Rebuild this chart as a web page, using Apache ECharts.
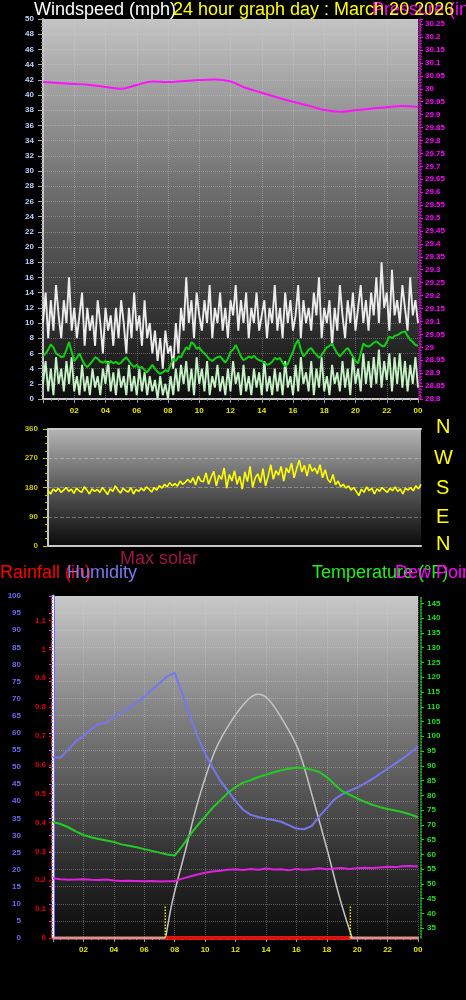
<!DOCTYPE html>
<html><head><meta charset="utf-8">
<script src="https://cdn.jsdelivr.net/npm/echarts@6/dist/echarts.min.js"></script>
<style>html,body{margin:0;padding:0;background:#000;}#c{width:466px;height:1000px;}</style>
</head><body><div id="c"></div>
<script>
// ---- data (10-minute samples, 00:00 .. 24:00) ----
const STEP10 = 10 / 60;
const gust = [10,14,8,13,9,15,11, 8,13,10,16,9,12, 8,11,14,7,12,9, 11,7,13,10,6,12, 9,11,7,12,8,13,
  10,6,12,8,14,9, 11,7,13,8,10,6, 9,5,8,4,9,6, 7,4,10,6,12,9, 16,10,13,8,14,11, 9,13,10,15,8,12,
  10,14,9,12,8,13, 11,15,9,13,10,14, 8,12,10,14,9,11, 13,8,12,10,15,9, 12,8,14,10,13,9, 11,15,8,13,10,12,
  9,14,11,16,8,12, 10,13,7,12,9,15, 11,8,13,10,14,9, 12,15,10,13,9,14, 11,16,10,18,12,14, 9,17,11,13,10,15,
  12,9,16,11,13,10];
const speed = [2,5,1,4,0.5,5.5,2, 4,1,5,2,5.5,1, 3,0.5,4.5,1,3,0.5, 4,1.5,3,0.5,4,2, 5,1,3.5,0.5,4,1.5,
  3,0.5,4.5,1,3,0.5, 4,1,3.5,0.5,3,1, 2.5,0,3,0.5,2,0, 3,0.5,4,1,4.5,2, 5,1,4,0.5,5.5,2, 4,1,5,0.5,3,1.5,
  4.5,1,3,0.5,4,1, 5,2,3.5,0.5,4.5,1, 3,0.5,4,1.5,3.5,0.5, 5,1,3,0.5,4,1, 3.5,0.5,5,1.5,3,0.5, 4.5,1,5.5,2,3.5,1,
  5,0.5,4,1.5,5.5,1, 3,0.5,4.5,2,3.5,1, 5,1.5,4,0.5,5.5,2, 4,1,6,2,5,1.5, 5.5,2,6.5,1.5,5,2.5, 6,1,5.5,2,6,1.5,
  5,1,4.5,2,5.5,1.5];
const avgSpeed = [5.6,6.0,6.5,7.2,6.8,6.0,5.8,5.5,5.6,6.5,7.5,6.2,5.0,5.4,6.0,5.2,4.5,4.2,
  4.6,5.0,5.5,5.3,4.9,4.8,5.0,4.6,5.0,4.7,4.9,4.6,4.8,5.2,5.5,5.0,4.5,4.2,
  4.5,4.1,4.2,3.8,3.5,4.0,4.5,4.0,3.6,3.3,3.5,3.8,3.6,4.5,5.3,5.0,5.6,5.5,
  6.2,6.8,6.5,7.5,7.2,6.6,6.8,6.3,6.0,5.6,5.2,5.0,5.3,5.5,5.6,5.2,4.8,5.3,
  6.2,6.5,7.1,6.4,5.6,5.1,5.3,5.6,5.4,5.7,5.3,5.1,5.0,4.8,4.5,4.6,4.9,5.4,
  5.2,5.4,4.8,4.3,4.6,5.5,6.2,7.2,7.8,6.5,5.6,6.0,6.5,6.7,6.2,5.8,5.4,5.8,
  6.3,6.8,7.0,7.3,6.6,6.0,5.6,6.0,6.4,6.7,6.2,5.6,5.0,4.7,6.0,7.3,7.0,6.9,
  7.1,7.4,7.6,7.3,7.0,6.9,7.5,8.2,8.0,8.3,8.4,8.6,8.8,8.9,8.3,7.8,7.5,7.1,7.0];
const windDir = [170,160,175,168,178,165,172, 180,168,175,162,178,170, 165,182,172,160,176,168,
  174,165,180,170,158,176, 168,185,172,163,178,170, 166,180,160,174,168,178, 170,182,175,166,180,172,
  186,178,190,182,195,185, 192,184,200,190,196,205, 195,210,188,215,200,198, 225,190,212,230,185,218,
  205,240,178,220,200,232, 190,215,175,228,198,245, 180,210,222,195,238,185, 215,250,205,232,218,245,
  200,240,225,255,210,238, 265,228,248,215,252,230, 240,222,250,210,235,205, 195,220,188,200,182,190,
  178,185,172,180,168,155, 175,165,182,170,178,160, 176,168,180,172,165,178, 170,182,168,176,160,178,
  172,180,170,185,176,190];
// hourly pressure (inHg)
const STEP60 = 1;
const pressure = [30.026,30.022,30.019,30.015,30.007,30.000,30.015,30.028,30.026,30.030,30.034,30.036,
  30.028,30.003,29.985,29.966,29.950,29.935,29.918,29.911,29.917,29.923,29.929,29.933,29.930];
// half-hourly
const STEP30 = 0.5;
const humidity = [52.8,52.8,55,57.5,59,61,62.6,63,64.5,66,67.2,68.8,70.5,72.5,74.5,76.5,77.5,71.5,65,59,
  54,49.8,46,43,40,37.5,36,35.4,34.9,34.5,34,33,32,31.8,32.7,35.5,38,40.5,42,43,
  44,45.2,46.5,48,49.5,51,52.5,54.2,56];
const temperature = [71,70.3,69.2,67.8,66.6,65.8,65.2,64.7,64.2,63.4,62.9,62.4,61.8,61.2,60.6,60.0,59.6,62.8,66.5,69.8,
  72.8,75.8,78.3,80.8,82.8,84.3,85.1,86.2,87.0,87.8,88.5,89.0,89.4,89.3,88.7,87.9,86.2,83.8,81.5,80.2,
  79.0,77.8,76.8,76.0,75.4,74.9,74.3,73.5,72.6];
const dewPoint = [51.9,51.6,51.4,51.5,51.6,51.4,51.3,51.5,51.2,51.0,51.1,51.0,50.9,51.0,50.8,50.9,51.0,51.8,52.5,53.2,
  53.8,54.2,54.5,54.8,55.0,54.7,55.1,54.8,55.2,54.9,55.0,54.6,55.1,54.8,55.0,55.3,55.0,55.2,55.4,55.1,
  55.3,55.5,55.4,55.6,55.8,55.7,56.0,56.1,55.9];
const solarTimes = [7.41,7.87,8.72,9.57,10.69,11.80,12.85,13.51,14.16,15.08,16.13,17.11,18.03,18.89,19.67];
const solarMax = [0,111,258,405,551,639,698,713,698,639,551,405,258,111,0];
const sunTimes = [7.38, 19.55];
const rainTimes = [0, 24];
const rainfall = [0, 0];
const hourTicks = ['00','02','04','06','08','10','12','14','16','18','20','22','00'];
const tempTicks = [35,40,45,50,55,60,65,70,75,80,85,90,95,100,105,110,115,120,125,130,135,140,145];
const compass = ['N','W','S','E','N'];

// ---- build ----
const pairs = (arr, step) => arr.map((v, i) => [i * step, v]);
const F = '"Liberation Sans", Arial, sans-serif';
const grad = (stops) => ({type:'linear', x:0, y:0, x2:0, y2:1, colorStops: stops.map(s => ({offset:s[0], color:s[1]}))});
const gridLine = {show:true, lineStyle:{color:'rgba(215,215,215,0.35)', type:'dotted', width:1}};
const hourFmt = v => hourTicks[Math.round(v / 2)];
const lbl = (color, margin, extra) => Object.assign({color:color, fontSize:8, fontWeight:'bold', fontFamily:F, margin:margin}, extra || {});

const chart = echarts.init(document.getElementById('c'), null, {renderer:'canvas'});
const txt = (t, x, y, color, size) => ({type:'text', x:x, y:y, z:100,
  style:{text:t, x:0, y:0, fill:color, font: size + 'px ' + F, verticalAlign:'middle', align:'left'}});

chart.setOption({
  backgroundColor:'#000',
  animation:false,
  grid:[
    {left:43, top:19, width:375, height:380, show:true, borderWidth:0,
      backgroundColor: grad([[0,'#c4c4c4'],[0.45,'#6e6e6e'],[0.8,'#303030'],[1,'#0e0e0e']])},
    {left:48, top:429, width:373, height:117, show:true, borderWidth:0,
      backgroundColor: grad([[0,'#b4b4b4'],[0.5,'#5a5a5a'],[1,'#0a0a0a']])},
    {left:53, top:596, width:365, height:342, show:true, borderWidth:0,
      backgroundColor: grad([[0,'#c8c8c8'],[0.45,'#6c6c6c'],[0.8,'#2a2a2a'],[1,'#0c0c0c']])}
  ],
  xAxis:[
    {gridIndex:0, type:'value', min:0, max:24, interval:2,
      axisLine:{show:true, onZero:false, lineStyle:{color:'#c8c8c8', width:2}},
      axisTick:{show:true, length:4, lineStyle:{color:'#a0a0a0'}},
      minorTick:{show:true, splitNumber:4, length:2, lineStyle:{color:'#909090'}},
      axisLabel:lbl('#e6e600', 8, {showMinLabel:false, formatter:hourFmt}),
      splitLine:gridLine},
    {gridIndex:1, type:'value', min:0, max:24, interval:2,
      axisLine:{show:true, onZero:false, lineStyle:{color:'#c8c8c8', width:2}},
      axisTick:{show:false}, axisLabel:{show:false}, splitLine:{show:false}},
    {gridIndex:1, type:'value', min:0, max:24, position:'top',
      axisLine:{show:true, onZero:false, lineStyle:{color:'#c8c8c8', width:2}},
      axisTick:{show:false}, axisLabel:{show:false}, splitLine:{show:false}},
    {gridIndex:2, type:'value', min:0, max:24, interval:2,
      axisLine:{show:true, onZero:false, lineStyle:{color:'#c8c8c8', width:2}},
      axisTick:{show:true, length:4, lineStyle:{color:'#a0a0a0'}},
      minorTick:{show:true, splitNumber:4, length:2, lineStyle:{color:'#909090'}},
      axisLabel:lbl('#e6e600', 8, {showMinLabel:false, formatter:hourFmt}),
      splitLine:gridLine}
  ],
  yAxis:[
    {gridIndex:0, type:'value', min:0, max:50, interval:2, position:'left',
      axisLine:{show:true, lineStyle:{color:'#c8c8c8', width:2}},
      axisTick:{show:true, length:5, lineStyle:{color:'#a8a8a8'}},
      minorTick:{show:true, splitNumber:4, length:2, lineStyle:{color:'#888'}},
      axisLabel:lbl('#bcd4ff', 9),
      splitLine:gridLine},
    {gridIndex:0, type:'value', min:28.8, max:30.27, interval:0.05, position:'right', offset:2,
      axisLine:{show:true, lineStyle:{color:'#ff00ff', width:1.5, type:'dotted'}},
      axisTick:{show:true, length:3, lineStyle:{color:'#ff00ff'}},
      minorTick:{show:true, splitNumber:4, length:2, lineStyle:{color:'#c000c0'}},
      axisLabel:lbl('#ff00ff', 5, {showMaxLabel:false}),
      splitLine:{show:false}},
    {gridIndex:1, type:'value', min:0, max:360, interval:90, position:'left',
      axisLine:{show:true, lineStyle:{color:'#c8c8c8', width:2}},
      axisTick:{show:true, length:5, lineStyle:{color:'#c8c800'}},
      minorTick:{show:true, splitNumber:4, length:3, lineStyle:{color:'#c8c800'}},
      axisLabel:lbl('#c8c800', 10),
      splitLine:{show:true, lineStyle:{color:'rgba(220,220,220,0.4)', type:'dashed'}}},
    {gridIndex:2, type:'value', min:0, max:100, interval:5, position:'left', offset:24,
      axisLine:{show:true, lineStyle:{color:'#6a6af0', width:3}},
      axisTick:{show:true, length:4, lineStyle:{color:'#6a6af0'}},
      minorTick:{show:true, splitNumber:5, length:2, lineStyle:{color:'#6a6af0'}},
      axisLabel:lbl('#6a6af0', 8),
      splitLine:gridLine},
    {gridIndex:2, type:'value', min:0, max:1.185, interval:0.1, position:'left', offset:1,
      axisLine:{show:true, lineStyle:{color:'#e00000', width:2, type:'dashed'}},
      axisTick:{show:true, length:3, lineStyle:{color:'#e00000'}},
      axisLabel:lbl('#e00000', 6, {showMaxLabel:false}),
      splitLine:{show:false}},
    {gridIndex:2, type:'value', min:31.7, max:147.5, position:'right', offset:3,
      axisLine:{show:true, lineStyle:{color:'#22cc22', width:1.5, type:'dotted'}},
      axisTick:{show:true, length:3, customValues:tempTicks, lineStyle:{color:'#22cc22'}},
      axisLabel:lbl('#22dd22', 6, {customValues:tempTicks}),
      splitLine:{show:false}},
    {gridIndex:2, type:'value', min:0, max:1000, position:'left', offset:0,
      axisLine:{show:true, lineStyle:{color:'#f0f0f0', width:2}},
      axisTick:{show:false}, axisLabel:{show:false}, splitLine:{show:false}}
  ],
  series:[
    {name:'Gust', type:'line', xAxisIndex:0, yAxisIndex:0, data:pairs(gust, STEP10), showSymbol:false,
      lineStyle:{color:'#ececec', width:1.9}, z:2},
    {name:'Wind speed', type:'line', xAxisIndex:0, yAxisIndex:0, data:pairs(speed, STEP10), showSymbol:false,
      lineStyle:{color:'#c6f2c6', width:1.9}, z:3},
    {name:'Average', type:'line', xAxisIndex:0, yAxisIndex:0, data:pairs(avgSpeed, STEP10), showSymbol:false,
      lineStyle:{color:'#10d010', width:2}, z:4},
    {name:'Pressure', type:'line', xAxisIndex:0, yAxisIndex:1, data:pairs(pressure, STEP60), showSymbol:false,
      smooth:0.4, lineStyle:{color:'#ff10ff', width:2}, z:5},
    {name:'Wind direction', type:'line', xAxisIndex:1, yAxisIndex:2, data:pairs(windDir, STEP10), showSymbol:false,
      lineStyle:{color:'#ffff00', width:1.6}, z:3},
    {name:'Rainfall', type:'line', xAxisIndex:3, yAxisIndex:4, data:rainTimes.map((t,i)=>[t, rainfall[i]]), showSymbol:false,
      clip:false, lineStyle:{color:'#e09090', width:3}, z:3},
    {name:'Rain daylight', type:'line', xAxisIndex:3, yAxisIndex:4, data:sunTimes.map(t=>[t, rainfall[0]]), showSymbol:false,
      clip:false, lineStyle:{color:'#ff0000', width:3}, z:4},
    {name:'Sunrise', type:'line', xAxisIndex:3, yAxisIndex:3, data:[[sunTimes[0],0],[sunTimes[0],9.4]], showSymbol:false,
      lineStyle:{color:'#e8e800', width:1.5, type:'dotted'}, z:4},
    {name:'Sunset', type:'line', xAxisIndex:3, yAxisIndex:3, data:[[sunTimes[1],0],[sunTimes[1],9.4]], showSymbol:false,
      lineStyle:{color:'#e8e800', width:1.5, type:'dotted'}, z:4},
    {name:'Max solar', type:'line', xAxisIndex:3, yAxisIndex:6, data:solarTimes.map((t,i)=>[t, solarMax[i]]), showSymbol:false,
      smooth:0.35, lineStyle:{color:'#c4c4c4', width:1.5}, z:3},
    {name:'Humidity', type:'line', xAxisIndex:3, yAxisIndex:3, data:pairs(humidity, STEP30), showSymbol:false,
      lineStyle:{color:'#7676f0', width:2}, z:5},
    {name:'Temperature', type:'line', xAxisIndex:3, yAxisIndex:5, data:pairs(temperature, STEP30), showSymbol:false,
      lineStyle:{color:'#22cc22', width:2}, z:5},
    {name:'Dew Point', type:'line', xAxisIndex:3, yAxisIndex:5, data:pairs(dewPoint, STEP30), showSymbol:false,
      lineStyle:{color:'#e020e0', width:2}, z:5}
  ],
  graphic:[
    txt('Windspeed (mph)', 34, 10, '#ffffff', 18),
    txt('Pressure (inHg)', 372, 10, '#ff00ff', 18),
    txt('24 hour graph day : March 20 2026', 173, 10, '#ffff00', 18),
    txt(compass[0], 436, 427, '#ffff00', 20),
    txt(compass[1], 434, 458, '#ffff00', 20),
    txt(compass[2], 436, 488, '#ffff00', 20),
    txt(compass[3], 436, 517, '#ffff00', 20),
    txt(compass[4], 436, 544, '#ffff00', 20),
    txt('Max solar', 120, 559, '#a0144a', 18),
    txt('Rainfall (in)', 0, 573, '#ff0000', 18),
    txt('Humidity', 67, 573, '#7b7bf0', 18),
    txt('Temperature (°F)', 312, 573, '#22ee22', 18),
    txt('Dew Point (°F)', 395, 573, '#ff00ff', 18)
  ]
});
</script></body></html>
